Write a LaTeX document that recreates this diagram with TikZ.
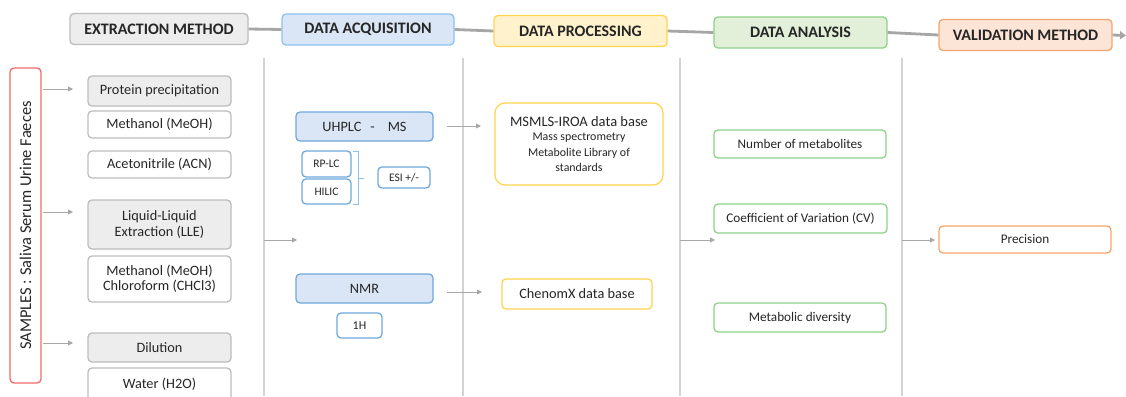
\documentclass[tikz,border=0pt]{standalone}
\usepackage{fontspec}
\setmainfont{Carlito}
\usetikzlibrary{arrows.meta}
\definecolor{gfill}{HTML}{EDEDED}
\definecolor{gbord}{HTML}{BDBDBD}
\definecolor{bfill}{HTML}{DAE6F5}
\definecolor{bbord}{HTML}{6FA8DC}
\definecolor{bhbord}{HTML}{8CC3EE}
\definecolor{yfill}{HTML}{FFF2CC}
\definecolor{ybord}{HTML}{FFD54F}
\definecolor{nfill}{HTML}{E2F0D9}
\definecolor{nbord}{HTML}{8FD18A}
\definecolor{ofill}{HTML}{FCE4D6}
\definecolor{obord}{HTML}{F5A66E}
\definecolor{rbord}{HTML}{F26B6B}
\definecolor{tlgray}{HTML}{A6A6A6}
\definecolor{argray}{HTML}{A8A8A8}
\definecolor{sepgray}{HTML}{D3D3D3}
\definecolor{txt}{HTML}{262626}
\begin{document}
\begin{tikzpicture}[x=1pt,y=-1pt,
  box/.style={draw, rounded corners=4pt, line width=1.3pt, align=center, inner sep=0pt, text=txt,
    font=\fontsize{14.3}{15.5}\selectfont},
  gbox/.style={box, draw=gbord, fill=gfill},
  wbox/.style={box, draw=gbord, fill=white},
  bbox/.style={box, draw=bbord, fill=bfill},
  bwbox/.style={box, draw=bbord, fill=white, font=\fontsize{11.5}{12}\selectfont},
  ybox/.style={box, draw=ybord, fill=white},
  nbox/.style={box, draw=nbord, fill=white, font=\fontsize{13.2}{15}\selectfont},
  obox/.style={box, draw=obord, fill=white, font=\fontsize{13.2}{15}\selectfont},
  hdr/.style={box, minimum height=31pt, font=\bfseries\fontsize{16}{18}\selectfont},
  tl/.style={draw=tlgray, line width=2.8pt},
  arr/.style={draw=argray, line width=0.9pt, -{Triangle[length=5pt,width=5pt]}},
  sep/.style={draw=sepgray, line width=1.2pt}
]
\clip (0,0) rectangle (1126,396);
\fill[white] (0,0) rectangle (1126,396);

% separators
\draw[sep] (264,58) -- (264,396);
\draw[sep] (463,58) -- (463,396);
\draw[sep] (680,58) -- (680,396);
\draw[sep] (902,58) -- (902,396);

% headers
\node[hdr, draw=gbord, fill=gfill, minimum width=178pt] (hExt) at (159,29) {EXTRACTION METHOD};
\node[hdr, draw=bhbord, fill=bfill, minimum width=172pt] (hAcq) at (368,29.5) {DATA ACQUISITION};
\node[hdr, draw=ybord, fill=yfill, minimum width=173pt] (hProc) at (580.5,31) {DATA PROCESSING};
\node[hdr, draw=nbord, fill=nfill, minimum width=173pt] (hAna) at (800.5,32.5) {DATA ANALYSIS};
\node[hdr, draw=obord, fill=ofill, minimum width=173pt] (hVal) at (1025.5,35) {VALIDATION METHOD};
\coordinate (tlend) at (1126,35.5);
\draw[tl] (hExt.east) -- (hAcq.west);
\draw[tl] (hAcq.east) -- (hProc.west);
\draw[tl] (hProc.east) -- (hAna.west);
\draw[tl] (hAna.east) -- (hVal.west);
\draw[tl, -{Triangle[length=6pt,width=8pt]}] (hVal.east) -- (tlend);

% samples
\node[draw=rbord, line width=1.3pt, rounded corners=4pt, fill=white, rotate=90,
  minimum width=315pt, minimum height=31pt, inner sep=0pt, text=txt,
  font=\fontsize{16.5}{18}\selectfont] (samp) at (25.5,225.5) {SAMPLES : Saliva Serum Urine Faeces};

% extraction
\node[gbox, minimum width=143pt, minimum height=30pt] (pp) at (159.5,91) {Protein precipitation};
\node[wbox, minimum width=143pt, minimum height=27pt] (m1) at (159.5,124.5) {Methanol (MeOH)};
\node[wbox, minimum width=143pt, minimum height=27pt] (acn) at (159.5,164.5) {Acetonitrile (ACN)};
\node[gbox, minimum width=143pt, minimum height=49pt] (lle) at (159.5,224.5) {Liquid-Liquid\\Extraction (LLE)};
\node[wbox, minimum width=143pt, minimum height=46pt] (mc) at (159.5,279) {Methanol (MeOH)\\Chloroform (CHCl3)};
\node[gbox, minimum width=143pt, minimum height=29pt] (dil) at (159.5,347.5) {Dilution};
\node[wbox, minimum width=143pt, minimum height=34pt] (wat) at (159.5,385) {\raisebox{3pt}{Water (H2O)}};

\coordinate (s1a) at (43,89);  \coordinate (s1b) at (73,89);
\coordinate (s2a) at (43,212); \coordinate (s2b) at (73,212);
\coordinate (s3a) at (43,343); \coordinate (s3b) at (73,343);
\draw[arr] (s1a) -- (s1b);
\draw[arr] (s2a) -- (s2b);
\draw[arr] (s3a) -- (s3b);

% acquisition
\coordinate (e2a) at (264,240); \coordinate (e2b) at (297,240);
\draw[arr] (e2a) -- (e2b);
\node[bbox, minimum width=137pt, minimum height=29pt] (uhplc) at (364.5,126.5) {UHPLC\hspace{9pt}-\hspace{13pt}MS};
\node[bwbox, minimum width=49pt, minimum height=26pt] (rplc) at (326.5,164) {RP-LC};
\node[bwbox, minimum width=49pt, minimum height=25pt] (hilic) at (326.5,191.5) {HILIC};
\node[bwbox, minimum width=52pt, minimum height=21pt] (esi) at (404,177.5) {ESI +/-};
\draw[draw=bhbord, line width=1pt] (353,151) -- (358,151) -- (358,204) -- (353,204);
\draw[draw=bhbord, line width=1pt] (358,178) -- (364,178);
\node[bbox, minimum width=137pt, minimum height=29pt] (nmr) at (364.5,288.5) {NMR};
\node[bwbox, minimum width=45pt, minimum height=25pt, font=\fontsize{12}{13}\selectfont] (h1) at (359.5,325.5) {1H};

% processing
\coordinate (p1a) at (447,126); \coordinate (p1b) at (481,126);
\coordinate (p2a) at (447,292); \coordinate (p2b) at (482,292);
\draw[arr] (p1a) -- (p1b);
\draw[arr] (p2a) -- (p2b);
\node[ybox, rounded corners=10pt, minimum width=168pt, minimum height=82pt] (msmls) at (579,144)
  {{\fontsize{14.5}{17}\selectfont MSMLS-IROA data base}\\[-1pt]
   {\fontsize{11.9}{13.5}\selectfont Mass spectrometry}\\
   {\fontsize{11.9}{13.5}\selectfont Metabolite Library of}\\
   {\fontsize{11.9}{13.5}\selectfont standards}};
\node[ybox, minimum width=150pt, minimum height=30pt] (chen) at (577,294) {ChenomX data base};

% analysis
\coordinate (d1a) at (680,240); \coordinate (d1b) at (715,240);
\draw[arr] (d1a) -- (d1b);
\node[nbox, minimum width=172pt, minimum height=28pt] (nm) at (800,144) {Number of metabolites};
\node[nbox, minimum width=173pt, minimum height=29pt] (cv) at (800.5,218.5) {Coefficient of Variation (CV)};
\node[nbox, minimum width=172pt, minimum height=29pt] (md) at (800,317.5) {Metabolic diversity};

% validation
\coordinate (v1a) at (902,240); \coordinate (v1b) at (935,240);
\draw[arr] (v1a) -- (v1b);
\node[obox, minimum width=172pt, minimum height=27pt] (prec) at (1025,239.5) {Precision};
\end{tikzpicture}
\end{document}
